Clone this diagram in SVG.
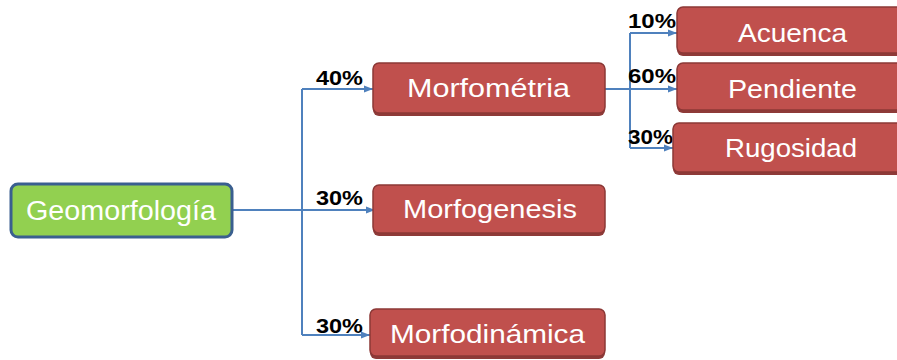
<svg xmlns="http://www.w3.org/2000/svg" width="897" height="360" viewBox="0 0 897 360">
<defs>
<style>
.red{fill:#C0504D;stroke:#8C3836;stroke-width:1.5}
.sh{fill:#8E3A38}
.green{fill:#92D050;stroke:#3A5F8F;stroke-width:3}
.t{font-family:"Liberation Sans",Arial,sans-serif;font-size:25px;fill:#FFFFFF}
.g{font-family:"Liberation Sans",Arial,sans-serif;font-size:27px;fill:#FFFFFF}
.p{font-family:"Liberation Sans",Arial,sans-serif;font-size:20px;font-weight:bold;fill:#000000}
.c{fill:none;stroke:#4F81BD;stroke-width:2}
</style>
<marker id="ar" markerUnits="userSpaceOnUse" markerWidth="9" markerHeight="9" viewBox="0 0 10 10" refX="10" refY="5" orient="auto">
<path d="M0,1 L10,5 L0,9 Z" fill="#4F81BD"/>
</marker>
</defs>
<rect width="897" height="360" fill="#FFFFFF"/>
<g id="connectors">
<path class="c" d="M232 210 H375" marker-end="url(#ar)"/>
<path class="c" d="M302 89 V335"/>
<path class="c" d="M302 89 H373" marker-end="url(#ar)"/>
<path class="c" d="M302 335 H370" marker-end="url(#ar)"/>
<path class="c" d="M605 89 H677" marker-end="url(#ar)"/>
<path class="c" d="M630 33 V148"/>
<path class="c" d="M630 33 H677" marker-end="url(#ar)"/>
<path class="c" d="M630 148 H673" marker-end="url(#ar)"/>
</g>
<g id="labels">
<text class="p" x="316" y="85" textLength="47" lengthAdjust="spacingAndGlyphs">40%</text>
<text class="p" x="316" y="205" textLength="47" lengthAdjust="spacingAndGlyphs">30%</text>
<text class="p" x="316" y="333" textLength="47" lengthAdjust="spacingAndGlyphs">30%</text>
<text class="p" x="628" y="28" textLength="48" lengthAdjust="spacingAndGlyphs">10%</text>
<text class="p" x="628" y="83" textLength="48" lengthAdjust="spacingAndGlyphs">60%</text>
<text class="p" x="628" y="144" textLength="45" lengthAdjust="spacingAndGlyphs">30%</text>
</g>
<g id="geomorfologia">
<rect class="green" x="11" y="184" width="221" height="53" rx="7"/>
<text class="g" x="26" y="220" textLength="190" lengthAdjust="spacingAndGlyphs">Geomorfología</text>
</g>
<g id="morfometria">
<rect class="sh" x="373" y="66" width="232" height="50" rx="6"/>
<rect class="red" x="373" y="63" width="232" height="50" rx="6"/>
<text class="t" x="407" y="97" textLength="163" lengthAdjust="spacingAndGlyphs">Morfométria</text>
</g>
<g id="morfogenesis">
<rect class="sh" x="373" y="188" width="232" height="48" rx="6"/>
<rect class="red" x="373" y="185" width="232" height="48" rx="6"/>
<text class="t" x="403" y="218" textLength="174" lengthAdjust="spacingAndGlyphs">Morfogenesis</text>
</g>
<g id="morfodinamica">
<rect class="sh" x="370" y="312" width="235" height="47" rx="6"/>
<rect class="red" x="370" y="309" width="235" height="47" rx="6"/>
<text class="t" x="390" y="343" textLength="195" lengthAdjust="spacingAndGlyphs">Morfodinámica</text>
</g>
<g id="acuenca">
<rect class="sh" x="677" y="10" width="230" height="46" rx="6"/>
<rect class="red" x="677" y="7" width="230" height="46" rx="6"/>
<text class="t" x="738" y="42" textLength="109" lengthAdjust="spacingAndGlyphs">Acuenca</text>
</g>
<g id="pendiente">
<rect class="sh" x="677" y="66" width="230" height="47" rx="6"/>
<rect class="red" x="677" y="63" width="230" height="47" rx="6"/>
<text class="t" x="728" y="98" textLength="129" lengthAdjust="spacingAndGlyphs">Pendiente</text>
</g>
<g id="rugosidad">
<rect class="sh" x="673" y="126" width="234" height="49" rx="6"/>
<rect class="red" x="673" y="123" width="234" height="49" rx="6"/>
<text class="t" x="725" y="157" textLength="132" lengthAdjust="spacingAndGlyphs">Rugosidad</text>
</g>
</svg>
